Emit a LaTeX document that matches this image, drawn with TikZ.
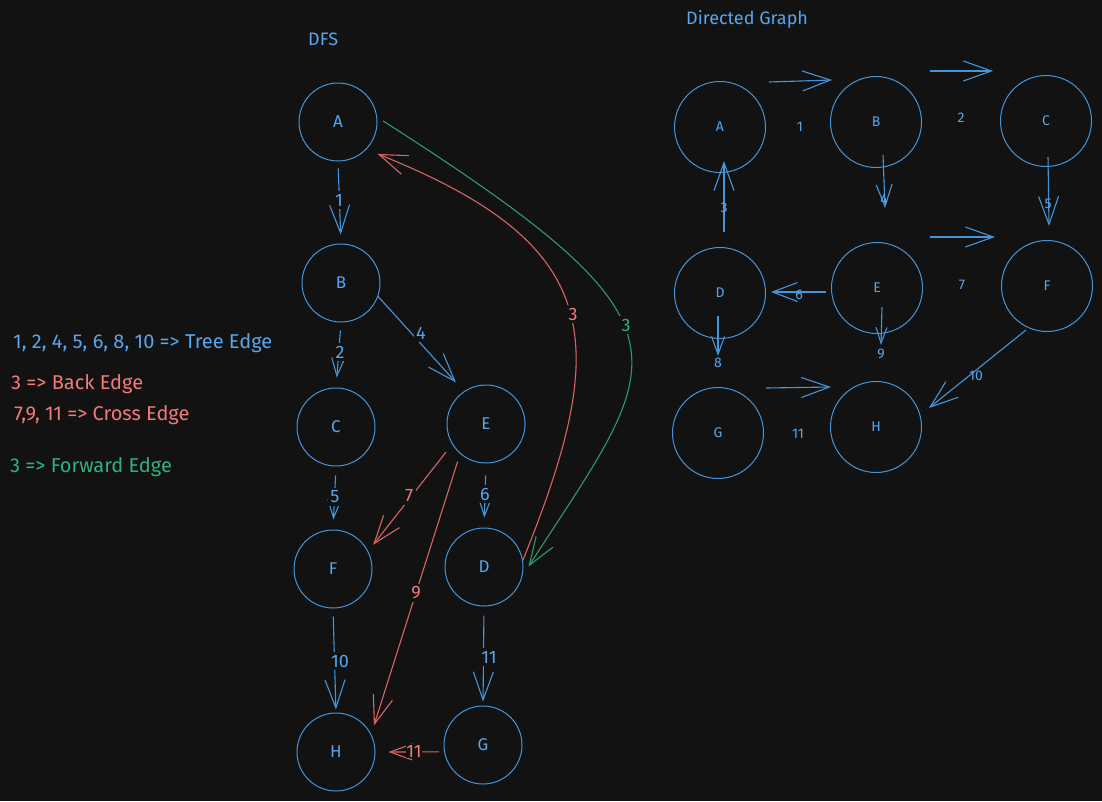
\documentclass[tikz,border=0pt]{standalone}
\usepackage{fontspec}
\setmainfont{Fira Sans}
\usetikzlibrary{arrows.meta}
\definecolor{bg}{HTML}{121212}
\definecolor{bline}{HTML}{4595DB}
\definecolor{btext}{HTML}{58A6EE}
\definecolor{rline}{HTML}{D96464}
\definecolor{rtext}{HTML}{F27A7A}
\definecolor{gline}{HTML}{2A9D6A}
\definecolor{gtext}{HTML}{2DB37A}
\tikzset{
  dnode/.style={circle,draw=bline,line width=1pt,minimum size=78pt,inner sep=0pt,text=btext,font=\fontsize{17}{17}\selectfont},
  gnode/.style={circle,draw=bline,line width=1pt,minimum size=91pt,inner sep=0pt,text=btext,font=\fontsize{14}{14}\selectfont},
  tree/.style={draw=bline,line width=1.1pt},
  redge/.style={draw=rline,line width=1.1pt},
  gedge/.style={draw=gline,line width=1.1pt},
  bigtip/.style={-{Straight Barb[length=28pt,width=20pt]}},
  midtip/.style={-{Straight Barb[length=22pt,width=16pt]}},
  smalltip/.style={-{Straight Barb[length=18pt,width=13pt]}},
  sixtip/.style={-{Straight Barb[length=25pt,width=19pt]}},
  eighttip/.style={-{Straight Barb[length=18pt,width=13pt]}},
  ninetip/.style={-{Straight Barb[length=16pt,width=11pt]}},
  elab/.style={fill=bg,inner sep=2.5pt,font=\fontsize{18}{18}\selectfont},
  glab/.style={inner sep=1pt,text=btext,font=\fontsize{14}{14}\selectfont},
  legend/.style={anchor=west,inner sep=0pt,font=\fontsize{20}{20}\selectfont},
}
\begin{document}
\begin{tikzpicture}[x=1pt,y=-1pt]
\fill[bg] (0,0) rectangle (1102,801);
\useasboundingbox (0,0) rectangle (1102,801);

% titles
\node[legend,text=btext,font=\fontsize{18}{18}\selectfont] (tdfs) at (308,39) {DFS};
\node[legend,text=btext,font=\fontsize{18}{18}\selectfont] (tdg) at (686,19) {Directed Graph};

% legend
\node[legend,text=btext] (lg1) at (13,343) {1, 2, 4, 5, 6, 8, 10 => Tree Edge};
\node[legend,text=rtext] (lg2) at (11,384) {3 => Back Edge};
\node[legend,text=rtext] (lg3) at (14,415) {7,9, 11 => Cross Edge};
\node[legend,text=gtext] (lg4) at (10,467) {3 => Forward Edge};

% DFS nodes
\node[dnode] (dA) at (338,122) {A};
\node[dnode] (dB) at (341,283) {B};
\node[dnode] (dC) at (336,427) {C};
\node[dnode] (dE) at (486,424) {E};
\node[dnode] (dF) at (333,569) {F};
\node[dnode] (dD) at (484,567) {D};
\node[dnode] (dH) at (336,752) {H};
\node[dnode] (dG) at (483,745) {G};

% DFS tree edges
\draw[tree,bigtip,shorten <=7pt,shorten >=9pt] (dA.south) -- (dB.north);
\draw[tree,smalltip,shorten <=8pt,shorten >=10pt] (dB.south) -- (dC.north);
\draw[tree,bigtip,shorten >=12pt] (dB.-20) -- (dE.124);
\draw[tree,smalltip,shorten <=9pt,shorten >=10pt] (dC.south) -- (dF.north);
\draw[tree,smalltip,shorten <=12pt,shorten >=10pt] (dE.south) -- (dD.north);
\draw[tree,bigtip,shorten <=8pt,shorten >=3pt] (dF.south) -- (dH.north);
\draw[tree,bigtip,shorten <=9pt,shorten >=4pt] (dD.south) -- (dG.north);

% DFS cross edges
\draw[redge,bigtip,shorten <=10pt,shorten >=8pt] (dE.211) -- (dF.27);
\draw[redge,bigtip,shorten <=8pt,shorten >=9pt] (dE.229) -- (dH.27);
\draw[redge,midtip,shorten <=5pt,shorten >=13pt] (dG.190) -- (dH.east);

% back edge D -> A
\draw[redge,bigtip,shorten >=12pt] (dD.10) .. controls (612,340) and (605,245) .. (dA.-44);
% forward edge A -> D
\draw[gedge,bigtip,shorten <=7pt,shorten >=11pt] (dA.7) .. controls (710,330) and (665,355) .. (dD.-13);

% DFS labels
\node[elab,text=btext] (l1) at (339,200) {1};
\node[elab,text=btext] (l2) at (340,352) {2};
\node[elab,text=btext] (l4) at (421,333) {4};
\node[elab,text=btext] (l5) at (335,497) {5};
\node[elab,text=btext] (l6) at (485,494) {6};
\node[elab,text=btext] (l10) at (340,661) {10};
\node[elab,text=btext] (l11) at (489,657) {11};
\node[elab,text=rtext] (l7) at (409,496) {7};
\node[elab,text=rtext] (l9) at (416,593) {9};
\node[elab,text=rtext,inner sep=0.5pt] (l11r) at (414,751) {11};
\node[elab,text=rtext] (l3r) at (573,314) {3};
\node[elab,text=gtext] (l3g) at (626,325) {3};

% Directed graph nodes
\node[gnode] (gA) at (720,127) {A};
\node[gnode] (gB) at (876,122) {B};
\node[gnode] (gC) at (1046,121) {C};
\node[gnode] (gD) at (720,293) {D};
\node[gnode] (gE) at (877,288) {E};
\node[gnode] (gF) at (1047,286) {F};
\node[gnode] (gG) at (718,433) {G};
\node[gnode] (gH) at (876,427) {H};

% Directed graph arrow ends
\coordinate (a1s) at (769,82);  \coordinate (a1e) at (832,80);
\coordinate (a2s) at (930,71);  \coordinate (a2e) at (993,71);
\coordinate (a4s) at (883,155); \coordinate (a4e) at (885,208);
\coordinate (a5s) at (1048,157);\coordinate (a5e) at (1049,226);
\coordinate (a3s) at (724,232); \coordinate (a3e) at (724,161);
\coordinate (a7s) at (930,237); \coordinate (a7e) at (995,237);
\coordinate (a6s) at (826,292); \coordinate (a6e) at (771,292);
\coordinate (a8s) at (718,316); \coordinate (a8e) at (718,356);
\coordinate (a9s) at (882,307); \coordinate (a9e) at (881,345);
\coordinate (a10s) at (1026,330); \coordinate (a10e) at (929,408);
\coordinate (a11s) at (766,388); \coordinate (a11e) at (831,387);

\draw[tree,bigtip] (a1s) -- (a1e);
\draw[tree,bigtip] (a2s) -- (a2e);
\draw[tree,midtip] (a4s) -- (a4e);
\draw[tree,bigtip] (a5s) -- (a5e);
\draw[tree,bigtip] (a3s) -- (a3e);
\draw[tree,bigtip] (a7s) -- (a7e);
\draw[tree,sixtip] (a6s) -- (a6e);
\draw[tree,eighttip] (a8s) -- (a8e);
\draw[tree,ninetip] (a9s) -- (a9e);
\draw[tree,bigtip] (a10s) -- (a10e);
\draw[tree,bigtip] (a11s) -- (a11e);

% Directed graph labels
\node[glab] (m1) at (800,127) {1};
\node[glab] (m2) at (961,118) {2};
\node[glab] (m4) at (884,200) {4};
\node[glab] (m5) at (1048,204) {5};
\node[glab] (m3) at (724,208) {3};
\node[glab] (m7) at (962,285) {7};
\node[glab] (m6) at (799,295) {6};
\node[glab] (m8) at (718,363) {8};
\node[glab] (m9) at (881,354) {9};
\node[glab] (m10) at (976,376) {10};
\node[glab] (m11) at (798,434) {11};
\end{tikzpicture}
\end{document}
